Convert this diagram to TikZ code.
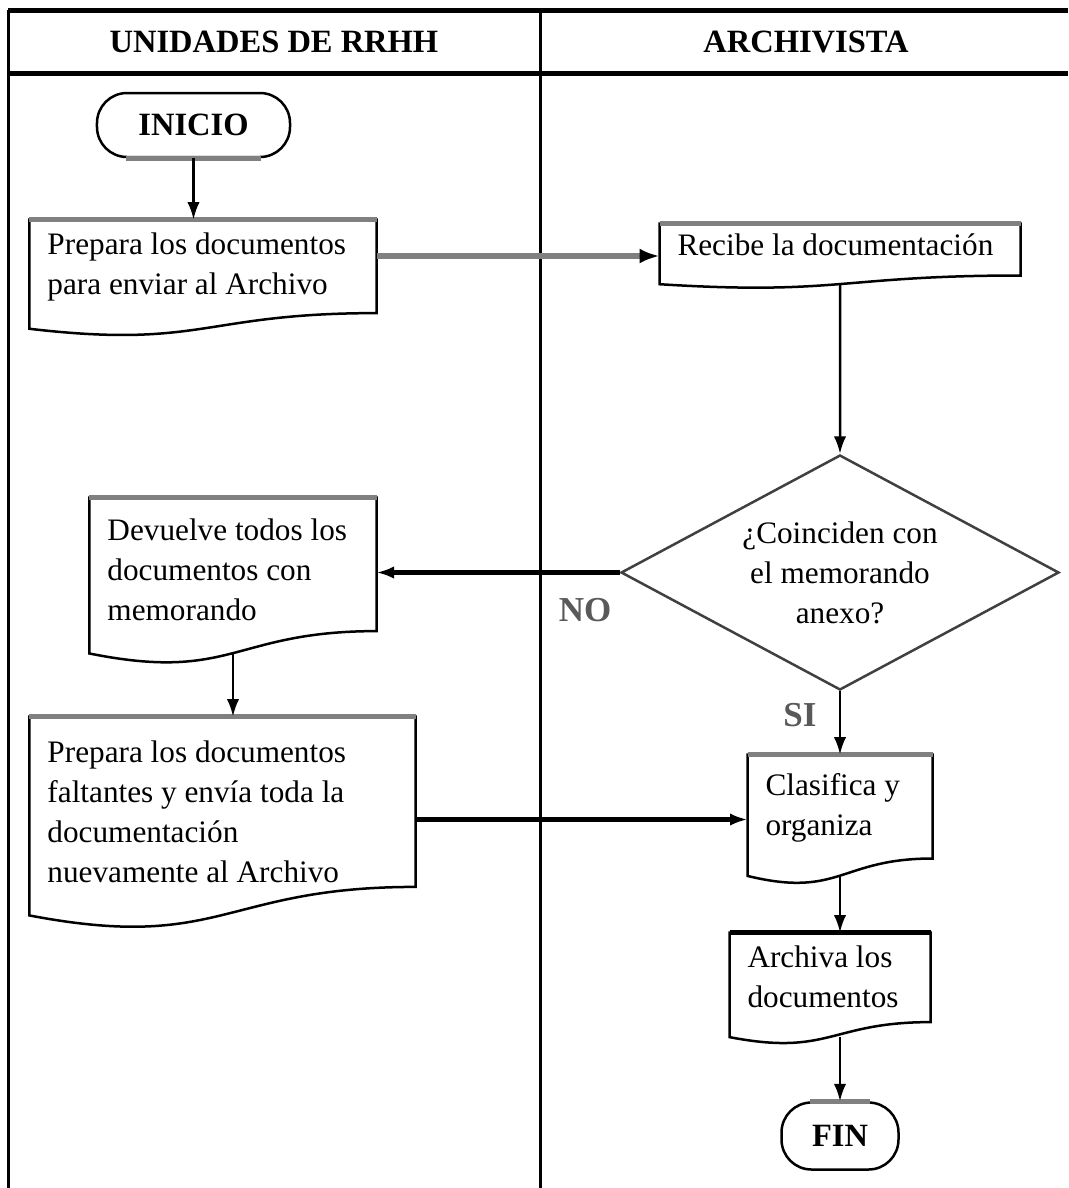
\documentclass[tikz,border=0pt]{standalone}
\usepackage{fontspec}
\setmainfont{Liberation Serif}
\usetikzlibrary{arrows.meta,calc,shapes.geometric}

\tikzset{
    >={Latex[length=7pt,width=5pt]},
    every node/.style={font=\fontsize{12.5}{16}\selectfont},
    lane/.style={line width=1.2pt},
    laneedge/.style={line width=2pt},
    lanetitle/.style={font=\fontsize{13}{16}\selectfont\bfseries},
    terminal/.style={draw, rounded corners=12pt, line width=1pt, font=\fontsize{13}{16}\selectfont\bfseries},
    shadowline/.style={line width=2.2pt, draw=black!50},
    docbox/.style={align=flush left, inner xsep=7pt, inner ysep=0pt, execute at end node={\par\vspace{9pt}}},
    decision/.style={draw=black!75, shape=diamond, aspect=1.86, inner sep=0pt, align=center, line width=1pt},
    flow/.style={->, line width=1pt},
    flowbold/.style={->, line width=1.8pt},
    flowgray/.style={-{Latex[length=8pt,width=6pt,color=black]}, draw=black!50, line width=2.6pt},
    branch/.style={font=\fontsize{14}{16}\selectfont\bfseries, text=black!65},
}

% document symbol drawn round a node, wavy bottom
\newcommand{\docshape}[2][black]{%
    \draw[line width=1pt] ($(#2.north west)!0.934!(#2.south west)$) -- (#2.north west) -- (#2.north east)
        -- ($(#2.north east)!0.8!(#2.south east)$)
        .. controls ($(#2.north)!0.8!(#2.south)$) and ($(#2.north)!1.107!(#2.south)$) .. ($(#2.north west)!0.934!(#2.south west)$) -- cycle;
    \draw[line width=2.2pt, #1] (#2.north west) -- (#2.north east);
    \coordinate (#2 wave) at ($(#2.north)!0.932!(#2.south)$);}

\begin{document}
\begin{tikzpicture}[x=0.4pt, y=-0.4pt]
    \useasboundingbox (0,0) rectangle (1068,1188);

    \draw[laneedge] (8,10) -- (1068,10);
    \draw[laneedge] (8,73) -- (1068,73);
    \draw[lane] (8,10) -- (8,1188);
    \draw[lane] (540,10) -- (540,1188);
    \node[lanetitle] (rrhh) at (274,42) {UNIDADES DE RRHH};
    \node[lanetitle] (archivista) at (806,42) {ARCHIVISTA};

    \node[terminal, minimum width=77.2pt, minimum height=25.6pt] (inicio) at (193.5,125) {INICIO};
    \draw[shadowline] ([xshift=12pt]inicio.south west) -- ([xshift=-12pt]inicio.south east);

    \node[docbox, text width=124.4pt, minimum height=46.4pt] (prepdoc) at (203,278) {Prepara los documentos\\para enviar al Archivo};
    \docshape[black!50]{prepdoc}
    \node[docbox, text width=130pt, minimum height=25.6pt] (recibe) at (840,256) {Recibe la documentación};
    \docshape[black!50]{recibe}

    \node[decision, minimum width=175.2pt, minimum height=94pt] (coinciden) at (840,572.5) {¿Coinciden con\\el memorando\\anexo?};

    \node[docbox, text width=100.4pt, minimum height=66.4pt] (devuelve) at (233,581) {Devuelve todos los\\documentos con\\memorando};
    \docshape[black!50]{devuelve}
    \node[docbox, text width=140pt, minimum height=84.8pt] (faltantes) at (222.5,823) {Prepara los documentos\\faltantes y envía toda la\\documentación\\nuevamente al Archivo};
    \docshape[black!50]{faltantes}

    \node[docbox, text width=59.6pt, minimum height=51.6pt] (clasifica) at (840,819.5) {Clasifica y\\organiza};
    \docshape[black!50]{clasifica}
    \node[docbox, text width=66pt, minimum height=44.4pt] (archiva) at (830,988.5) {Archiva los\\documentos};
    \docshape{archiva}

    \node[terminal, minimum width=46.8pt, minimum height=26.8pt] (fin) at (840,1136) {FIN};
    \draw[shadowline] ([xshift=12pt]fin.north west) -- ([xshift=-12pt]fin.north east);

    \draw[flow] (inicio.south) -- (inicio.south |- prepdoc.north);
    \draw[flowgray] (prepdoc.east |- recibe.west) -- (recibe.west);
    \draw[flow] (recibe wave) -- (coinciden.north);
    \draw[flowbold] (coinciden.west) -- (coinciden.west -| devuelve.east);
    \draw[flow] (devuelve wave) -- (devuelve wave |- faltantes.north);
    \draw[flowbold] (faltantes.east |- clasifica.west) -- (clasifica.west);
    \draw[flow] (coinciden.south) -- (clasifica.north);
    \draw[flow] (clasifica wave) -- (clasifica wave |- archiva.north);
    \draw[flow] (fin.north |- archiva wave) -- (fin.north);

    \node[branch] (no) at (585,610) {NO};
    \node[branch] (si) at (800,715) {SI};
\end{tikzpicture}
\end{document}
